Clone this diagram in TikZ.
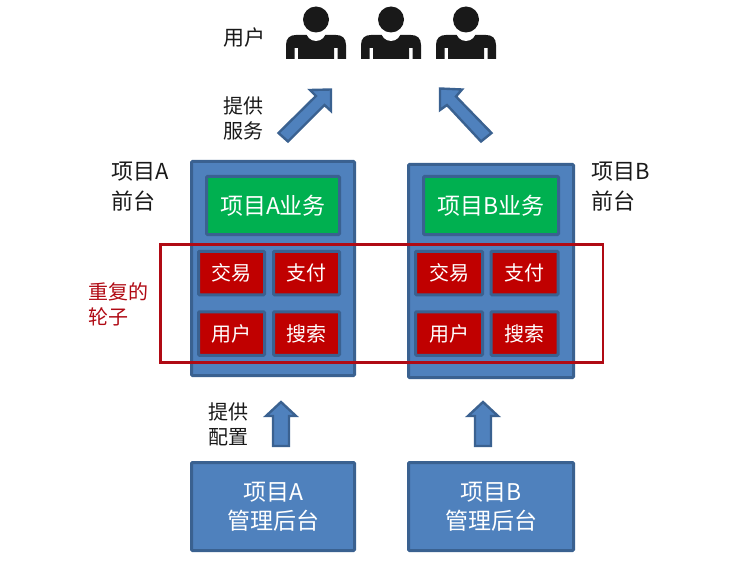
\documentclass[tikz,border=0pt]{standalone}
\usepackage{fontspec}
\setmainfont{Noto Sans CJK SC}
\definecolor{panelblue}{HTML}{4F81BD}
\definecolor{panelline}{HTML}{3A6190}
\definecolor{bizgreen}{HTML}{00B050}
\definecolor{dupred}{HTML}{C00000}
\definecolor{frameRed}{HTML}{B00A14}
\tikzset{
    box/.style={draw=panelline,line width=3pt,fill=#1,text=white,inner sep=0pt,rounded corners=1pt},
    redbox/.style={box=dupred,minimum height=43.5pt,font=\fontsize{20}{25}\selectfont},
    blockarrow/.style={draw=panelline,line width=2.4pt,fill=panelblue,line join=miter},
    label/.style={align=left,anchor=west,inner sep=0pt,text=black!90,font=\fontsize{20}{25}\selectfont},
}
\begin{document}
\begin{tikzpicture}[x=1pt,y=-1pt]
\useasboundingbox (0,0) rectangle (742,567);

% Users
\node[label,font=\fontsize{21}{25}\selectfont] (userlabel) at (223,38) {用户};
\foreach \x in {316,391,466} {
    \begin{scope}[shift={(\x,0)}]
    \fill[black!90] (-30,59) -- (-30,45) .. controls (-30,38) and (-26,35) .. (-20,35) -- (20,35)
        .. controls (26,35) and (30,38) .. (30,45) -- (30,59) -- (21.5,59) -- (21.5,48) -- (18,48) -- (18,59)
        -- (-18,59) -- (-18,48) -- (-21.5,48) -- (-21.5,59) -- cycle;
    \fill[white] (0,31) circle (10);
    \fill[black!90] (0,19.5) circle (13);
    \end{scope}
}

% Service arrows
\draw[blockarrow] (278.5,133) -- (316,96) -- (310,90) -- (331,89.5) -- (331,111) -- (324.5,105) -- (288,141.5) -- cycle;
\draw[blockarrow] (491.5,133) -- (456,96.5) -- (462,89.5) -- (440,88.5) -- (440,110) -- (447,105) -- (481,141.5) -- cycle;
\node[label] (serve) at (223,118) {提供\\服务};

% Front ends
\foreach \nm/\lab/\cx/\pw/\pcy/\ph/\gw/\ra/\rb/\rw/\ax in {a/A/273/163/268.5/214/133/231.5/306.5/66/281, b/B/491/165/271/213/135/449/524.5/67/483} {
    \node[box=panelblue,minimum width=\pw pt,minimum height=\ph pt] (panel\nm) at (\cx,\pcy) {};
    \node[box=bizgreen,minimum width=\gw pt,minimum height=58pt,font=\fontsize{23}{25}\selectfont] (biz\nm) at (\cx,205.5) {项目\lab 业务};
    \node[redbox,minimum width=\rw pt] (trade\nm) at (\ra,273) {交易};
    \node[redbox,minimum width=\rw pt] (pay\nm) at (\rb,273) {支付};
    \node[redbox,minimum width=\rw pt] (user\nm) at (\ra,333.5) {用户};
    \node[redbox,minimum width=\rw pt] (search\nm) at (\rb,333.5) {搜索};
    % Admin back end
    \node[box=panelblue,minimum width=\pw pt,minimum height=88pt,align=center,font=\fontsize{23}{29}\selectfont] (admin\nm) at (\cx,506.5) {项目\lab\\管理后台};
    % Config arrow
    \draw[blockarrow] (\ax-8,446) -- (\ax-8,416) -- (\ax-15,416) -- (\ax,402) -- (\ax+15,416) -- (\ax+8,416) -- (\ax+8,446) -- cycle;
}
\node[label,font=\fontsize{22}{30}\selectfont] (fronta) at (111,187) {项目A\\前台};
\node[label,font=\fontsize{22}{30}\selectfont] (frontb) at (591,187) {项目B\\前台};
\node[label] (config) at (208,424.5) {提供\\配置};

% Duplicated wheels
\draw[frameRed,line width=2.5pt] (160.5,244.5) rectangle (603,362.5);
\node[label,text=frameRed] (wheels) at (88,304.5) {重复的\\轮子};
\end{tikzpicture}
\end{document}
